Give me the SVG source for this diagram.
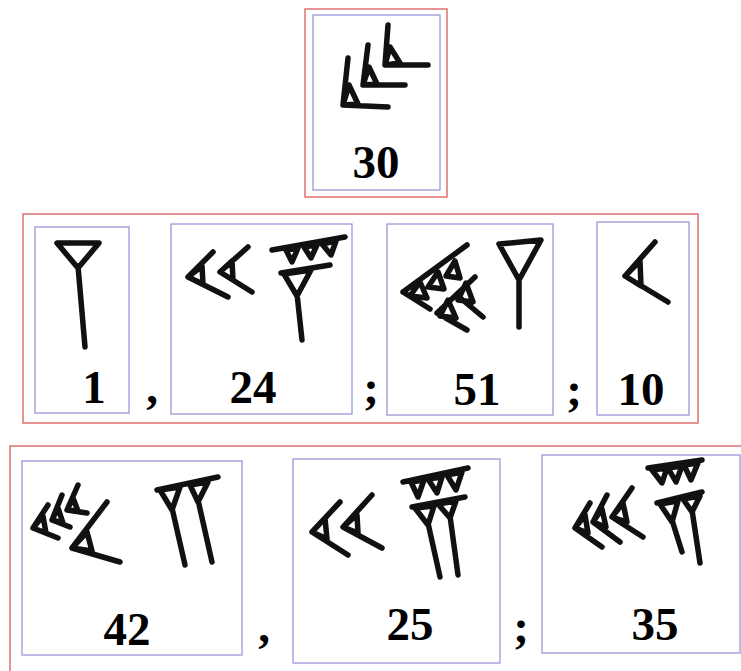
<svg xmlns="http://www.w3.org/2000/svg" width="741" height="671" viewBox="0 0 741 671">
<style>
.red{fill:none;stroke:#e07070;stroke-width:1.5}
.blue{fill:#fff;stroke:#8f8fd6;stroke-width:1.2}
.ink{fill:none;stroke:#111;stroke-width:5.5;stroke-linecap:round;stroke-linejoin:round}
.num{font-family:"Liberation Serif","Times New Roman",serif;font-weight:bold;font-size:47px;fill:#000;text-anchor:middle}
</style>
<rect width="741" height="671" fill="#fff"/>
<g id="row-top">
<rect class="red" x="305" y="9" width="142" height="188"/>
<g id="n30">
<rect class="blue" x="313" y="15" width="127" height="175"/>
<path class="ink" d="M348,58 L343,105 L388,107 M343,105 L349,85 L358,104 Z M368,45 L363,85 L405,85 M363,85 L369,67 L377,84 Z M388,25 L385,65 L428,65 M385,65 L390,47 L400,63 Z"/>
<text class="num" x="376" y="178">30</text>
</g>
</g>
<g id="row-middle">
<rect class="red" x="23" y="214" width="675" height="209"/>
<g id="n1">
<rect class="blue" x="35" y="227" width="94" height="186"/>
<path class="ink" d="M57,243 L99,243 L78,268 Z M78,266 L85,347"/>
<text class="num" x="94" y="403">1</text>
</g>
<text class="num" x="152" y="403">,</text>
<g id="n24">
<rect class="blue" x="171" y="224" width="181" height="190"/>
<path class="ink" d="M213,252 L188,277 L228,297 M188,277 L202,266 L203,284 Z M248,247 L220,272 L252,292 M220,272 L232,261 L233,280 Z M272,250 L345,237 M286,250 L298,248 L292,262 Z M304,247 L317,245 L311,258 Z M322,244 L336,241 L331,255 Z M281,273 L330,265 M284,274 L311,270 L297,296 Z M297,294 L302,340"/>
<text class="num" x="253" y="403">24</text>
</g>
<text class="num" x="371" y="403">;</text>
<g id="n51">
<rect class="blue" x="387" y="224" width="166" height="191"/>
<path class="ink" d="M403,292 L467,245 M403,292 L430,309 M410,296 L420,282 L427,298 Z M428,287 L438,272 L444,289 Z M446,276 L455,261 L460,278 Z M437,313 L475,277 M437,313 L467,330 M458,296 L483,317 M440,316 L448,300 L456,318 Z M458,300 L466,283 L473,302 Z M499,244 L541,240 L519,280 Z M519,278 L519,327"/>
<text class="num" x="477" y="405">51</text>
</g>
<text class="num" x="574" y="405">;</text>
<g id="n10">
<rect class="blue" x="597" y="222" width="92" height="193"/>
<path class="ink" d="M655,242 L625,276 L668,302 M625,276 L640,261 L641,286 Z"/>
<text class="num" x="641" y="405">10</text>
</g>
</g>
<g id="row-bottom">
<rect class="red" x="10" y="446" width="780" height="260"/>
<g id="n42">
<rect class="blue" x="22" y="461" width="220" height="194"/>
<path class="ink" d="M48,505 L33,528 L58,538 M33,528 L43,516 L46,533 Z M62,495 L52,520 L70,527 M52,520 L58,508 L63,523 Z M78,485 L67,510 L87,513 M67,510 L73,498 L78,511 Z M107,502 L72,548 L120,562 M72,548 L87,532 L92,551 Z M157,490 L218,477 M160,490 L180,487 L172,510 Z M172,508 L185,565 M190,485 L208,482 L198,502 Z M198,500 L212,562"/>
<text class="num" x="127" y="645">42</text>
</g>
<text class="num" x="264" y="642">,</text>
<g id="n25">
<rect class="blue" x="293" y="459" width="207" height="204"/>
<path class="ink" d="M340,502 L312,532 L348,555 M312,532 L325,518 L327,539 Z M372,495 L343,527 L382,548 M343,527 L357,515 L358,533 Z M403,482 L468,468 M411,482 L424,480 L418,497 Z M428,479 L442,477 L437,493 Z M447,475 L462,472 L456,490 Z M412,507 L465,497 M415,508 L434,506 L428,525 Z M438,504 L456,501 L450,518 Z M428,523 L440,577 M450,516 L458,575"/>
<text class="num" x="410" y="640">25</text>
</g>
<text class="num" x="521" y="642">;</text>
<g id="n35">
<rect class="blue" x="542" y="455" width="198" height="198"/>
<path class="ink" d="M590,503 L575,528 L602,547 M575,528 L585,515 L588,533 Z M607,495 L593,522 L620,542 M593,522 L602,509 L606,527 Z M632,488 L612,517 L643,537 M612,517 L623,503 L627,522 Z M648,468 L702,460 M652,470 L667,468 L662,483 Z M668,468 L682,466 L676,482 Z M684,465 L698,463 L691,480 Z M657,503 L702,492 M660,504 L678,501 L672,522 Z M683,499 L700,496 L692,512 Z M672,520 L682,552 M692,510 L700,563"/>
<text class="num" x="655" y="640">35</text>
</g>
</g>
</svg>
